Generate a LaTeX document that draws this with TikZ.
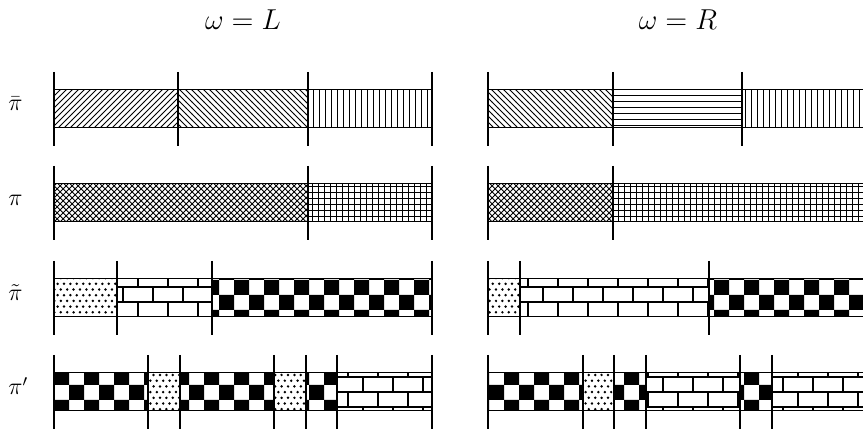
\documentclass[tikz,border=0pt]{standalone}
\usetikzlibrary{patterns}
% custom patterns (page units in pt; 1 reference pixel = 0.5pt)
\pgfdeclarepatternformonly{bigchecker}{\pgfqpoint{12pt}{8.5pt}}{\pgfqpoint{27pt}{23.5pt}}{\pgfqpoint{15pt}{15pt}}{%
  \pgfpathrectangle{\pgfqpoint{12pt}{8.5pt}}{\pgfqpoint{7.55pt}{7.55pt}}%
  \pgfpathrectangle{\pgfqpoint{19.5pt}{16pt}}{\pgfqpoint{7.55pt}{7.55pt}}%
  \pgfusepath{fill}}
\pgfdeclarepatternformonly{bigbricks}{\pgfqpoint{-1pt}{4pt}}{\pgfqpoint{16pt}{21pt}}{\pgfqpoint{15pt}{15pt}}{%
  \pgfsetlinewidth{0.8pt}%
  \pgfpathmoveto{\pgfqpoint{-1pt}{5pt}}\pgfpathlineto{\pgfqpoint{16pt}{5pt}}%
  \pgfpathmoveto{\pgfqpoint{-1pt}{12.5pt}}\pgfpathlineto{\pgfqpoint{16pt}{12.5pt}}%
  \pgfpathmoveto{\pgfqpoint{1.5pt}{5pt}}\pgfpathlineto{\pgfqpoint{1.5pt}{12.5pt}}%
  \pgfpathmoveto{\pgfqpoint{9pt}{12.5pt}}\pgfpathlineto{\pgfqpoint{9pt}{20pt}}%
  \pgfusepath{stroke}}
\pgfdeclarepatternformonly{densedots}{\pgfqpoint{-1pt}{-1pt}}{\pgfqpoint{2.2pt}{4.7pt}}{\pgfqpoint{3.2pt}{5.7pt}}{%
  \pgfpathcircle{\pgfqpoint{0pt}{0pt}}{0.68pt}%
  \pgfpathcircle{\pgfqpoint{1.6pt}{2.85pt}}{0.68pt}%
  \pgfusepath{fill}}
\tikzset{
  seg/.style={draw=black, line width=0.5pt},
  tick/.style={draw=black, line width=1.4pt},
  lab/.style={anchor=base west, inner sep=0pt, font=\large},
  ttl/.style={anchor=center, inner sep=0pt, font=\Large}
}
\begin{document}
\begin{tikzpicture}[x=0.5pt,y=-0.5pt]
\useasboundingbox (0,0) rectangle (863,432);
\clip (0,0) rectangle (863,432);
% titles
\node[ttl] (tL) at (243,20) {$\omega = L$};
\node[ttl] (tR) at (678,20) {$\omega = R$};
% labels
\node[lab] (l1) at (8,111) {$\bar\pi$};
\node[lab] (l2) at (8,206) {$\pi$};
\node[lab] (l3) at (8,301) {$\tilde\pi$};
\node[lab] (l4) at (8,395) {$\pi'$};
% row 1
\foreach \a/\b/\p in {54/178/north east lines,178/308/north west lines,308/432/vertical lines,
  488/613/north west lines,613/742/horizontal lines,742/866/vertical lines}
  \draw[seg,pattern=\p] (\a,90) rectangle (\b,128);
\foreach \x in {54,178,308,432,488,613,742,866}
  \draw[tick] (\x,72) -- (\x,146);
% row 2
\foreach \a/\b/\p in {54/308/crosshatch,308/432/grid,488/613/crosshatch,613/866/grid}
  \draw[seg,pattern=\p] (\a,184) rectangle (\b,222);
\foreach \x in {54,308,432,488,613,866}
  \draw[tick] (\x,166) -- (\x,240);
% row 3
\foreach \a/\b/\p in {54/117/densedots,117/212/bigbricks,212/432/bigchecker,
  488/520/densedots,520/709/bigbricks,709/866/bigchecker}
  \draw[seg,pattern=\p] (\a,279) rectangle (\b,317);
\foreach \x in {54,117,212,432,488,520,709,866}
  \draw[tick] (\x,261) -- (\x,335);
% row 4
\foreach \a/\b/\p in {54/148/bigchecker,148/180/densedots,180/274/bigchecker,274/306/densedots,306/337/bigchecker,337/432/bigbricks,
  488/583/bigchecker,583/614/densedots,614/646/bigchecker,646/740/bigbricks,740/772/bigchecker,772/866/bigbricks}
  \draw[seg,pattern=\p] (\a,373) rectangle (\b,411);
\foreach \x in {54,148,180,274,306,337,432,488,583,614,646,740,772,866}
  \draw[tick] (\x,355) -- (\x,429);
\end{tikzpicture}
\end{document}
